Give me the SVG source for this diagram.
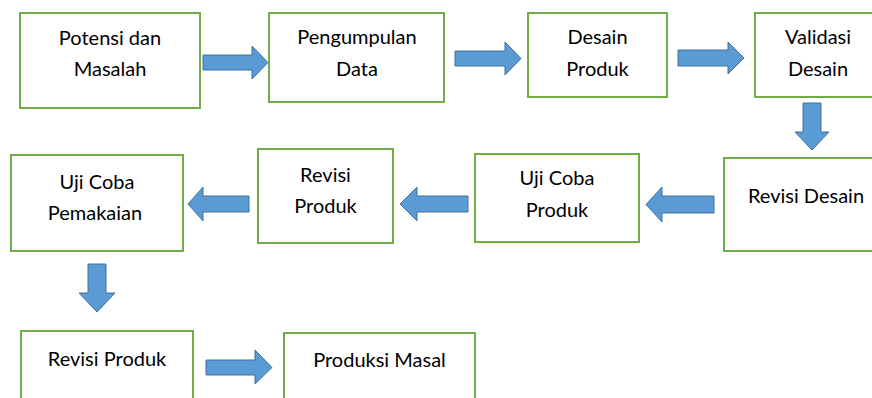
<svg xmlns="http://www.w3.org/2000/svg" width="872" height="398" viewBox="0 0 872 398">
<style>
.box{fill:#fff;stroke:#70ad47;stroke-width:2}
.arr{fill:#5b9bd5;stroke:#41719c;stroke-width:1}
.t{font-family:Lato,"Liberation Sans",sans-serif;font-size:20px;fill:#000;text-anchor:middle}
</style>
<rect width="872" height="398" fill="#fff"/>
<g id="connectors">
<polygon class="arr" points="203,55 252,55 252,46 268,62.5 252,79 252,70 203,70"/>
<polygon class="arr" points="455,51 505,51 505,42 521,58.5 505,75 505,66 455,66"/>
<polygon class="arr" points="678,50 728,50 728,42 744,58 728,74 728,66 678,66"/>
<polygon class="arr" points="803,103 821,103 821,132 829,132 812,150 795,132 803,132"/>
<polygon class="arr" points="714,196 662,196 662,187 646,204.5 662,222 662,213 714,213"/>
<polygon class="arr" points="468,196 417,196 417,187 400,204 417,221 417,212 468,212"/>
<polygon class="arr" points="249,196 203,196 203,187 188,204 203,221 203,212 249,212"/>
<polygon class="arr" points="88,264 106,264 106,293 115,293 97,312 79,293 88,293"/>
<polygon class="arr" points="206,360 255,360 255,350 272,367.5 255,384 255,375 206,375"/>
</g>
<g id="n1"><rect class="box" x="20" y="13" width="180" height="95"/><text class="t" x="110" y="45">Potensi dan</text><text class="t" x="110" y="76">Masalah</text></g>
<g id="n2"><rect class="box" x="269" y="13" width="175" height="89"/><text class="t" x="357" y="44">Pengumpulan</text><text class="t" x="357" y="76">Data</text></g>
<g id="n3"><rect class="box" x="528" y="13" width="139" height="84"/><text class="t" x="597.5" y="44">Desain</text><text class="t" x="597.5" y="76">Produk</text></g>
<g id="n4"><rect class="box" x="755" y="13" width="126" height="84"/><text class="t" x="818" y="44">Validasi</text><text class="t" x="818" y="76">Desain</text></g>
<g id="n5"><rect class="box" x="724" y="158" width="164" height="93"/><text class="t" x="806" y="203">Revisi Desain</text></g>
<g id="n6"><rect class="box" x="475" y="154" width="164" height="88"/><text class="t" x="557" y="185">Uji Coba</text><text class="t" x="557" y="217">Produk</text></g>
<g id="n7"><rect class="box" x="258" y="149" width="135" height="94"/><text class="t" x="325.5" y="182">Revisi</text><text class="t" x="325.5" y="213">Produk</text></g>
<g id="n8"><rect class="box" x="11" y="155" width="172" height="96"/><text class="t" x="97" y="189">Uji Coba</text><text class="t" x="95" y="220">Pemakaian</text></g>
<g id="n9"><rect class="box" x="21" y="331" width="172" height="80"/><text class="t" x="107" y="366">Revisi Produk</text></g>
<g id="n10"><rect class="box" x="284" y="333" width="191" height="80"/><text class="t" x="379.5" y="367">Produksi Masal</text></g>
</svg>
